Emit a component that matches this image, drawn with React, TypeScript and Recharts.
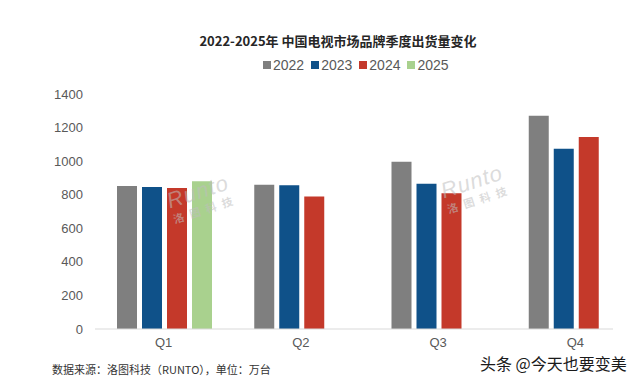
import { BarChart, Bar, XAxis, YAxis } from 'recharts';

const quarters = ['Q1', 'Q2', 'Q3', 'Q4'];
const s2022 = [852, 860, 997, 1270];
const s2023 = [846, 856, 866, 1074];
const s2024 = [840, 790, 808, 1144];
const s2025 = [880, null, null, null];
const yTicks = [0, 200, 400, 600, 800, 1000, 1200, 1400];

const data = quarters.map((q, i) => ({
  q,
  y2022: s2022[i],
  y2023: s2023[i],
  y2024: s2024[i],
  y2025: s2025[i],
}));

const series = [
  { key: 'y2022', name: '2022', color: '#7f7f7f' },
  { key: 'y2023', name: '2023', color: '#0f5189' },
  { key: 'y2024', name: '2024', color: '#c4392a' },
  { key: 'y2025', name: '2025', color: '#a9d18e' },
];

const font = '"Liberation Sans", Arial, "Noto Sans CJK SC", sans-serif';
const cjk = '"Noto Sans CJK SC", sans-serif';

// faint company watermark laid over the plot
const Mark = ({ left, top }: { left: number; top: number }) => (
  <div
    style={{
      position: 'absolute',
      left,
      top,
      transform: 'rotate(-18deg)',
      color: 'rgba(190,190,190,0.55)',
      lineHeight: 1,
      pointerEvents: 'none',
    }}
  >
    <div style={{ fontSize: 22, fontStyle: 'italic', fontFamily: font, letterSpacing: 1 }}>Runto</div>
    <div style={{ fontSize: 11, fontFamily: cjk, fontWeight: 700, letterSpacing: 6, marginTop: 2 }}>洛图科技</div>
  </div>
);

export default function App() {
  return (
    <div style={{ position: 'absolute', left: 0, top: 0, width: 640, height: 382, background: '#fff', overflow: 'hidden', fontFamily: font }}>
      <div style={{ position: 'absolute', top: 31, left: 0, width: 676, textAlign: 'center', fontFamily: cjk, fontWeight: 700, fontSize: 13, color: '#262626' }}>
        2022-2025年 中国电视市场品牌季度出货量变化
      </div>
      <div style={{ position: 'absolute', top: 57, left: 263, display: 'flex', gap: 7, fontSize: 14, color: '#595959' }}>
        {series.map((s) => (
          <span key={s.key} style={{ display: 'flex', alignItems: 'center' }}>
            <span style={{ width: 8, height: 8, background: s.color, display: 'inline-block', marginRight: 2 }} />
            {s.name}
          </span>
        ))}
      </div>
      <BarChart
        width={640}
        height={382}
        data={data}
        margin={{ top: 94, right: 27, bottom: 23, left: 35 }}
        barCategoryGap={22}
        barGap={5}
      >
        <XAxis
          dataKey="q"
          height={30}
          axisLine={{ stroke: '#d9d9d9' }}
          tickLine={false}
          tickSize={0}
          tickMargin={9}
          padding={{ left: 0, right: -31 }}
          tick={{ fill: '#595959', fontSize: 13, fontFamily: font }}
        />
        <YAxis
          width={60}
          domain={[0, 1400]}
          ticks={yTicks}
          axisLine={false}
          tickLine={false}
          tickSize={0}
          tickMargin={12}
          tick={{ fill: '#595959', fontSize: 13, fontFamily: font }}
        />
        {series.map((s) => (
          <Bar key={s.key} dataKey={s.key} name={s.name} fill={s.color} isAnimationActive={false} />
        ))}
      </BarChart>
      <Mark left={168} top={180} />
      <Mark left={442} top={170} />
      <div style={{ position: 'absolute', top: 362, left: 52, fontSize: 11, lineHeight: '14px', color: '#333', fontFamily: cjk }}>
        数据来源：洛图科技（RUNTO），单位：万台
      </div>
      <div style={{ position: 'absolute', top: 355, left: 480, fontSize: 16, lineHeight: '16px', color: '#1a1a1a', fontFamily: cjk }}>
        头条 @今天也要变美
      </div>
    </div>
  );
}
